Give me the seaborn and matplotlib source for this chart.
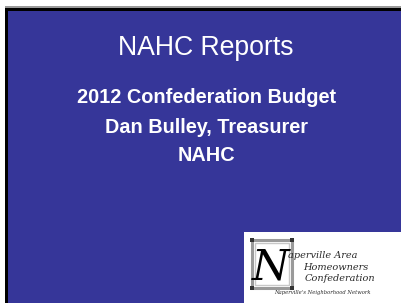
import matplotlib
matplotlib.use("Agg")
import matplotlib.pyplot as plt
import seaborn as sns
from matplotlib.patches import Rectangle

sns.set_style("white")
plt.rcParams['font.family'] = ['Liberation Sans', 'DejaVu Sans']

title_text = ["NAHC Reports"]
subtitle_lines = ["2012 Confederation Budget", "Dan Bulley, Treasurer", "NAHC"]
subtitle_baselines = [103, 133, 161]
logo_lines = ["aperville Area", "Homeowners", "Confederation"]
logo_tagline = ["Naperville's Neighborhood Network"]

BLUE = "#363699"

fig = plt.figure(figsize=(4.02, 3.03), dpi=100)
ax = fig.add_axes([0, 0, 1, 1])
ax.set_xlim(0, 402)
ax.set_ylim(303, 0)
ax.axis("off")
fig.patch.set_facecolor("white")

# slide frame
ax.add_patch(Rectangle((5, 6), 397, 1.6, color="#9a9a9a", lw=0))
ax.add_patch(Rectangle((5, 7.6), 397, 3, color="black", lw=0))
ax.add_patch(Rectangle((5, 7.6), 3.5, 296, color="black", lw=0))
ax.add_patch(Rectangle((8.5, 10.6), 394, 293, color=BLUE, lw=0))

ax.text(205.5, 55, title_text[0], color="white", fontsize=19.2,
        ha="center", va="baseline")
for s, yb in zip(subtitle_lines, subtitle_baselines):
    ax.text(206.5, yb, s, color="white", fontsize=14.3, fontweight="bold",
            ha="center", va="baseline")

# logo
ax.add_patch(Rectangle((244, 232), 158, 71, color="white", lw=0))
ax.add_patch(Rectangle((252, 240), 40, 48, fill=False, ec="#9a9a9a", lw=2.2))
ax.add_patch(Rectangle((255, 243), 34, 42, fill=False, ec="#c8c8c8", lw=1))
for cx, cy in [(252, 240), (292, 240), (252, 288), (292, 288)]:
    ax.add_patch(Rectangle((cx - 2, cy - 2), 4, 4, color="#333333", lw=0))
ax.text(271, 280, "N", family="DejaVu Serif", style="italic", fontsize=31,
        color="black", ha="center", va="baseline")
logo_pos = [(323, 258, 7.0), (336, 269.5, 7.0), (340, 281, 7.0)]
for s, (x, y, fs) in zip(logo_lines, logo_pos):
    ax.text(x, y, s, family="DejaVu Serif", style="italic", fontsize=fs,
            color="#2a2a2a", ha="center", va="baseline")
ax.text(322, 294, logo_tagline[0], family="DejaVu Serif", style="italic",
        fontsize=3.8, color="#2a2a2a", ha="center", va="baseline")

fig.savefig("out.png", dpi=100)
